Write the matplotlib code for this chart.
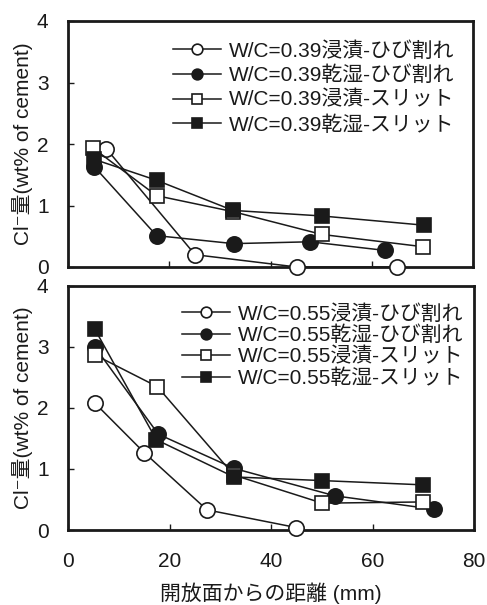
import matplotlib
matplotlib.use("Agg")
import matplotlib.pyplot as plt

FAM = ['Liberation Sans', 'DejaVu Sans', 'Noto Sans CJK JP']
plt.rcParams['font.family'] = FAM

# ---- Top panel (W/C=0.39) ----
top_labels = ["W/C=0.39浸漬-ひび割れ", "W/C=0.39乾湿-ひび割れ",
              "W/C=0.39浸漬-スリット", "W/C=0.39乾湿-スリット"]
top_open_circle_x = [7.6, 25.1, 45.2, 65.0]
top_open_circle_y = [1.92, 0.20, 0.00, 0.00]
top_fill_circle_x = [5.2, 17.5, 32.7, 47.8, 62.6]
top_fill_circle_y = [1.63, 0.51, 0.38, 0.41, 0.27]
top_open_square_x = [5.0, 17.5, 32.6, 50.1, 70.1]
top_open_square_y = [1.93, 1.16, 0.90, 0.53, 0.33]
top_fill_square_x = [5.2, 17.5, 32.6, 50.1, 70.3]
top_fill_square_y = [1.75, 1.41, 0.92, 0.83, 0.68]

# ---- Bottom panel (W/C=0.55) ----
bot_labels = ["W/C=0.55浸漬-ひび割れ", "W/C=0.55乾湿-ひび割れ",
              "W/C=0.55浸漬-スリット", "W/C=0.55乾湿-スリット"]
bot_open_circle_x = [5.3, 15.0, 27.4, 45.0]
bot_open_circle_y = [2.08, 1.27, 0.33, 0.04]
bot_fill_circle_x = [5.3, 17.8, 32.7, 52.6, 72.1]
bot_fill_circle_y = [3.00, 1.57, 1.01, 0.56, 0.34]
bot_open_square_x = [5.3, 17.6, 32.7, 50.1, 70.0]
bot_open_square_y = [2.87, 2.35, 0.90, 0.44, 0.46]
bot_fill_square_x = [5.3, 17.4, 32.7, 50.1, 70.0]
bot_fill_square_y = [3.29, 1.48, 0.87, 0.81, 0.74]

x_ticks = [0, 20, 40, 60, 80]
y_ticks = [0, 1, 2, 3, 4]
ylabel = "Cl⁻量(wt% of cement)"
xlabel = "開放面からの距離 (mm)"

W, H = 487, 605
fig = plt.figure(figsize=(W / 100, H / 100), dpi=100)

def px_axes(l, t, r, b):
    return fig.add_axes([l / W, 1 - b / H, (r - l) / W, (b - t) / H])

ax1 = px_axes(68, 21, 473, 267)
ax2 = px_axes(68, 286, 474, 530)

C = '#1a1a1a'
def draw(ax, data, labels, legend_anchor, spacing):
    styles = [
        dict(marker='o', mfc='white', ms=11),
        dict(marker='o', mfc=C, ms=11),
        dict(marker='s', mfc='white', ms=10),
        dict(marker='s', mfc=C, ms=10),
    ]
    order = [2, 3, 1, 0]
    handles = [None] * 4
    for i in order:
        xs, ys = data[i]
        h, = ax.plot(xs, ys, color=C, lw=1.1, mec=C, mew=1.2,
                     label=labels[i], zorder=3 + i * 0.1, clip_on=False, **styles[i])
        handles[i] = h
    ax.set_xlim(0, 80)
    ax.set_ylim(0, 4)
    ax.set_xticks(x_ticks)
    ax.set_yticks(y_ticks)
    ax.tick_params(direction='in', length=4, width=1, labelsize=15, colors=C)
    ax.tick_params(axis='y', pad=14)
    for s in ax.spines.values():
        s.set_linewidth(2)
        s.set_color(C)
    ax.set_ylabel(ylabel, fontsize=15, color=C, labelpad=3)
    leg = ax.legend(handles=handles, loc='upper left',
                    bbox_to_anchor=legend_anchor, bbox_transform=fig.transFigure,
                    frameon=False, fontsize=15, handlelength=2.3, handletextpad=0.4,
                    labelspacing=spacing, markerscale=0.7, borderpad=0, borderaxespad=0)
    for t in leg.get_texts():
        t.set_color(C)
    return leg

draw(ax1, [(top_open_circle_x, top_open_circle_y),
           (top_fill_circle_x, top_fill_circle_y),
           (top_open_square_x, top_open_square_y),
           (top_fill_square_x, top_fill_square_y)], top_labels,
     (173 / W, 1 - 41 / H), 0.25)
ax1.tick_params(labelbottom=False)

draw(ax2, [(bot_open_circle_x, bot_open_circle_y),
           (bot_fill_circle_x, bot_fill_circle_y),
           (bot_open_square_x, bot_open_square_y),
           (bot_fill_square_x, bot_fill_square_y)], bot_labels,
     (182 / W, 1 - 304 / H), 0.1)
ax2.tick_params(axis='x', pad=16)
ax2.set_xlabel(xlabel, fontsize=15, color=C, labelpad=8)

fig.savefig("out.png", dpi=100)
